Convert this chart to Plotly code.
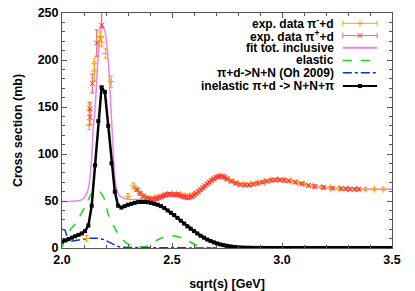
import plotly.graph_objects as go

# ---------------- data ----------------
# inelastic pi+d -> N+N+pi (black, squares)
inel_x = [2.000, 2.015, 2.030, 2.045, 2.060, 2.075, 2.090, 2.105, 2.120, 2.135,
          2.150, 2.165, 2.180, 2.195, 2.210, 2.225, 2.240, 2.255, 2.270, 2.285,
          2.300, 2.315, 2.330, 2.345, 2.360, 2.375, 2.390, 2.405, 2.420, 2.435,
          2.450, 2.465, 2.480, 2.495, 2.510, 2.525, 2.540, 2.555, 2.570, 2.585,
          2.600, 2.615, 2.630, 2.645, 2.660, 2.675, 2.690, 2.705, 2.720, 2.735,
          2.750, 2.765, 2.780, 2.795, 2.810, 2.825, 2.840, 2.855, 2.870, 2.885,
          2.900, 2.915, 2.930, 2.945, 2.960, 2.975, 2.990, 3.005, 3.020, 3.035,
          3.050, 3.065, 3.080, 3.095, 3.110, 3.125, 3.140, 3.155, 3.170, 3.185,
          3.200, 3.215, 3.230, 3.245, 3.260, 3.275, 3.290, 3.305, 3.320, 3.335,
          3.350, 3.365, 3.380, 3.395, 3.410, 3.425, 3.440, 3.455, 3.470, 3.485, 3.500]
inel_y = [7.0, 8.0, 9.5, 11.0, 12.5, 14.0, 15.5, 18.0, 24.0, 45.0,
          88.0, 135.0, 171.0, 166.0, 130.0, 90.0, 60.0, 45.0, 43.0, 44.5,
          46.0, 47.0, 48.0, 48.8, 49.0, 49.0, 48.7, 48.0, 47.0, 46.0,
          44.5, 42.5, 40.0, 37.5, 35.0, 32.0, 29.0, 26.0, 23.0, 20.5,
          18.0, 15.5, 13.0, 11.0, 9.0, 7.5, 6.0, 4.8, 3.8, 3.0,
          2.3, 1.7, 1.2, 0.9, 0.6, 0.4, 0.3, 0.2, 0.15, 0.1,
          0.08, 0.06, 0.05, 0.04, 0.03, 0.02, 0.02, 0.01, 0.01, 0.01,
          0.0, 0.0, 0.0, 0.0, 0.0, 0.0, 0.0, 0.0, 0.0, 0.0,
          0.0, 0.0, 0.0, 0.0, 0.0, 0.0, 0.0, 0.0, 0.0, 0.0,
          0.0, 0.0, 0.0, 0.0, 0.0, 0.0, 0.0, 0.0, 0.0, 0.0, 0.0]

# fit total inclusive (violet)
fit_x = [2.00, 2.05, 2.08, 2.095, 2.105, 2.12, 2.135, 2.142, 2.15, 2.165, 2.18,
         2.195, 2.21, 2.22, 2.23, 2.24, 2.25, 2.26, 2.28, 2.30, 2.35, 2.40,
         2.45, 2.50, 2.55, 2.60, 2.63, 2.66, 2.69, 2.72, 2.75, 2.78, 2.81,
         2.85, 2.90, 2.95, 3.00, 3.05, 3.10, 3.15, 3.20, 3.30, 3.40, 3.50]
fit_y = [49.5, 49.8, 50.5, 52.0, 55.0, 63.5, 96.0, 128.0, 147.0, 205.0, 238.0,
         231.0, 200.0, 160.0, 115.0, 75.0, 62.0, 56.0, 53.0, 52.0, 51.5, 52.0,
         53.5, 55.5, 56.0, 57.5, 61.0, 67.0, 73.0, 76.0, 74.0, 70.0, 67.5,
         67.0, 69.5, 71.8, 72.3, 71.0, 67.8, 65.5, 64.0, 62.8, 62.5, 62.4]

# elastic (green dashed)
el_x = [2.00, 2.03, 2.067, 2.112, 2.135, 2.165, 2.195, 2.21, 2.25, 2.294, 2.33,
        2.37, 2.40, 2.43, 2.46, 2.49, 2.52, 2.567, 2.61, 2.66, 2.72, 2.80, 3.0, 3.5]
el_y = [1.0, 17.0, 28.0, 47.5, 58.0, 62.0, 51.0, 36.0, 17.0, 5.0, 1.5,
        1.0, 3.0, 8.0, 11.5, 13.0, 12.5, 8.5, 3.0, 0.6, 0.1, 0.0, 0.0, 0.0]

# pi+d -> N+N (Oh 2009), blue dash-dot
nn_x = [2.000, 2.014, 2.030, 2.074, 2.120, 2.160, 2.190, 2.226, 2.250, 2.270,
        2.320, 2.400, 2.500, 2.600, 2.700]
nn_y = [20.0, 19.0, 6.7, 8.5, 10.3, 10.5, 9.0, 5.0, 2.0, 0.8,
        0.4, 0.3, 0.2, 0.1, 0.0]

# exp. data pi- + d (orange)
pim_x = [2.112, 2.124, 2.124, 2.147, 2.147, 2.175, 2.180, 2.198, 2.223, 2.300,
         2.324, 2.335, 2.350, 2.365, 2.380, 2.400, 2.420, 2.440, 2.460, 2.480,
         2.500, 2.520, 2.540, 2.560, 2.580, 2.600, 2.620, 2.640, 2.660, 2.680,
         2.700, 2.720, 2.740, 2.760, 2.780, 2.800, 2.830, 2.860, 2.890, 2.920,
         2.950, 2.980, 3.010, 3.040, 3.070, 3.100, 3.140, 3.180, 3.220, 3.260,
         3.300, 3.340, 3.380, 3.420, 3.460]
pim_y = [10.3, 147.0, 131.0, 196.0, 188.0, 225.0, 219.0, 207.0, 177.0, 55.0,
         66.0, 64.0, 60.0, 56.0, 54.0, 53.0, 53.5, 54.5, 55.5, 57.0,
         57.5, 57.5, 57.0, 56.0, 56.0, 57.5, 60.0, 64.0, 68.0, 72.0,
         75.0, 76.5, 75.0, 72.5, 70.5, 68.5, 67.5, 68.0, 69.5, 71.0,
         72.3, 73.0, 72.5, 71.5, 69.5, 68.0, 66.0, 64.8, 64.0, 63.5,
         63.0, 62.8, 62.5, 62.5, 62.4]
pim_err = [3.0, 6.0, 5.0, 6.0, 10.0, 5.0, 5.0, 5.0, 6.0, 3.0,
           3.0, 2.0, 2.0, 2.0, 2.0, 1.5, 1.5, 1.5, 1.5, 1.5,
           1.5, 1.5, 1.5, 1.5, 1.5, 1.5, 1.5, 1.5, 1.5, 1.5,
           1.5, 1.5, 1.5, 1.5, 1.5, 1.5, 1.5, 1.5, 1.5, 1.5,
           1.5, 1.5, 1.5, 1.5, 1.5, 1.5, 1.5, 1.5, 1.5, 1.5,
           1.5, 1.5, 1.5, 1.5, 1.5]

# exp. data pi+ + d (red)
pip_x = [2.127, 2.127, 2.138, 2.158, 2.180, 2.340, 2.355, 2.370, 2.385, 2.400,
         2.410, 2.420, 2.430, 2.440, 2.450, 2.460, 2.470, 2.480, 2.490, 2.500,
         2.510, 2.520, 2.530, 2.540, 2.550, 2.560, 2.570, 2.580, 2.590, 2.600,
         2.610, 2.620, 2.630, 2.640, 2.650, 2.660, 2.670, 2.680, 2.690, 2.700,
         2.710, 2.720, 2.730, 2.740, 2.750, 2.770, 2.790, 2.810, 2.830, 2.850,
         2.870, 2.890, 2.910, 2.930, 2.950, 2.970, 2.990, 3.010, 3.030, 3.060,
         3.090, 3.120, 3.150, 3.190, 3.230, 3.270, 3.290, 3.310, 3.330, 3.350]
pip_y = [139.0, 148.0, 175.0, 218.0, 237.0, 62.0, 58.0, 55.0, 53.0, 52.0,
         51.5, 52.0, 52.5, 53.5, 54.5, 55.5, 56.5, 57.0, 57.5, 57.0,
         56.5, 57.0, 56.5, 55.5, 54.5, 54.0, 53.5, 54.0, 54.5, 56.0,
         58.0, 60.0, 62.0, 64.0, 66.0, 68.0, 70.0, 72.0, 73.5, 75.0,
         76.0, 76.5, 76.0, 75.0, 73.5, 71.0, 69.0, 67.5, 67.0, 67.0,
         68.0, 69.0, 70.0, 71.0, 72.0, 72.5, 72.5, 72.0, 71.5, 70.0,
         68.5, 66.5, 65.5, 64.5, 63.5, 63.0, 63.0, 62.5, 62.5, 62.5]
pip_err_plus = [8.0, 7.0, 10.0, 14.0, 30.0] + [1.5] * 65
pip_err_minus = [8.0, 7.0, 10.0, 14.0, 3.0] + [1.5] * 65

legend_labels = ["exp. data π<sup>-</sup>+d", "exp. data π<sup>+</sup>+d",
                 "fit tot. inclusive", "elastic", "π+d->N+N (Oh 2009)",
                 "inelastic π+d -> N+N+π"]

ORANGE = "#FFA500"
RED = "#FF3030"
RED_ERR = "#FF6A6A"
VIOLET = "#EE82EE"
GREEN = "#11DD11"
BLUE = "#1030E0"
BLACK = "#000000"

fig = go.Figure()

fig.add_trace(go.Scatter(x=fit_x, y=fit_y, mode="lines", line=dict(color=VIOLET, width=1.5, shape="spline", smoothing=0.6)))
fig.add_trace(go.Scatter(x=el_x, y=el_y, mode="lines", line=dict(color=GREEN, width=1.5, dash="dash", shape="spline", smoothing=0.6)))
fig.add_trace(go.Scatter(x=nn_x, y=nn_y, mode="lines", line=dict(color=BLUE, width=1.5, dash="dashdot")))
fig.add_trace(go.Scatter(x=pim_x, y=pim_y, mode="markers",
                         marker=dict(symbol="cross-thin", size=5, line=dict(color=ORANGE, width=1)),
                         error_y=dict(type="data", array=pim_err, color=ORANGE, thickness=1, width=2)))
fig.add_trace(go.Scatter(x=pip_x, y=pip_y, mode="markers",
                         marker=dict(symbol="x-thin", size=5, line=dict(color=RED, width=1)),
                         error_y=dict(type="data", array=pip_err_plus, arrayminus=pip_err_minus,
                                      symmetric=False, color=RED_ERR, thickness=1.3, width=2)))
fig.add_trace(go.Scatter(x=inel_x, y=inel_y, mode="lines+markers",
                         line=dict(color=BLACK, width=2.5),
                         marker=dict(symbol="square", size=4, color=BLACK)))

# ---- custom gnuplot-like legend (text left, sample right) on an overlay axis ----
rows = [0.956, 0.904, 0.852, 0.798, 0.746, 0.689]
sx0, sx1 = 0.851, 0.955
sxm = (sx0 + sx1) / 2
styles = [
    dict(color=ORANGE, width=1, dash="solid"),
    dict(color=RED_ERR, width=1, dash="solid"),
    dict(color=VIOLET, width=2, dash="solid"),
    dict(color=GREEN, width=1.5, dash="dash"),
    dict(color=BLUE, width=1.5, dash="dashdot"),
    dict(color=BLACK, width=2, dash="solid"),
]
for lab, ry, st in zip(legend_labels, rows, styles):
    fig.add_annotation(x=0.827, y=ry, xref="paper", yref="paper", text=lab,
                       showarrow=False, xanchor="right", yanchor="middle",
                       font=dict(size=12, color="black"), borderpad=0)
    fig.add_trace(go.Scatter(x=[sx0, sx1], y=[ry, ry], xaxis="x2", yaxis="y2", mode="lines",
                             line=st, hoverinfo="skip"))
# end caps for error-bar samples and center markers
for ry, col, capcol, sym in [(rows[0], ORANGE, ORANGE, "cross-thin"), (rows[1], RED, RED_ERR, "x-thin")]:
    for cx in (sx0, sx1):
        fig.add_trace(go.Scatter(x=[cx, cx], y=[ry - 0.012, ry + 0.012], xaxis="x2", yaxis="y2",
                                 mode="lines", line=dict(color=capcol, width=1), hoverinfo="skip"))
    fig.add_trace(go.Scatter(x=[sxm], y=[ry], xaxis="x2", yaxis="y2", mode="markers",
                             marker=dict(symbol=sym, size=5, line=dict(color=col, width=1)), hoverinfo="skip"))
fig.add_trace(go.Scatter(x=[sxm], y=[rows[5]], xaxis="x2", yaxis="y2", mode="markers",
                         marker=dict(symbol="square", size=4, color=BLACK), hoverinfo="skip"))

axis_common = dict(showgrid=False, zeroline=False, showline=True, linecolor="#555555", linewidth=1,
                   mirror="ticks", ticks="inside", ticklen=5, tickcolor="#555555", automargin=False,
                   ticklabeloverflow="allow", tickfont=dict(size=12.5, color="black"))
fig.update_layout(
    template="none",
    width=415, height=291,
    margin=dict(l=62, r=23, t=13, b=43, autoexpand=False),
    paper_bgcolor="white", plot_bgcolor="white",
    showlegend=False,
    font=dict(family="Liberation Sans, Arial, sans-serif", size=12.5, color="black", weight="bold"),
    xaxis=dict(range=[2.0, 3.5], tickvals=[2.0, 2.5, 3.0, 3.5], ticktext=["2.0", "2.5", "3.0", "3.5"],
               minor=dict(dtick=0.1, ticks="inside", ticklen=3, tickcolor="#555555"),
               title=dict(text="sqrt(s) [GeV]", standoff=16, font=dict(size=12.5)), **axis_common),
    yaxis=dict(range=[0, 250], dtick=50,
               minor=dict(dtick=10, ticks="inside", ticklen=3, tickcolor="#555555"),
               title=dict(text="Cross section (mb)", standoff=12, font=dict(size=12.5)), **axis_common),
    xaxis2=dict(overlaying="x", range=[0, 1], visible=False, anchor="y2"),
    yaxis2=dict(overlaying="y", range=[0, 1], visible=False, anchor="x2"),
)

# remove the default page margin so the 415x291 figure fills the window exactly
fig.write_html("out.html", config={"displayModeBar": False},
               post_script="document.body.style.margin='0px';")
